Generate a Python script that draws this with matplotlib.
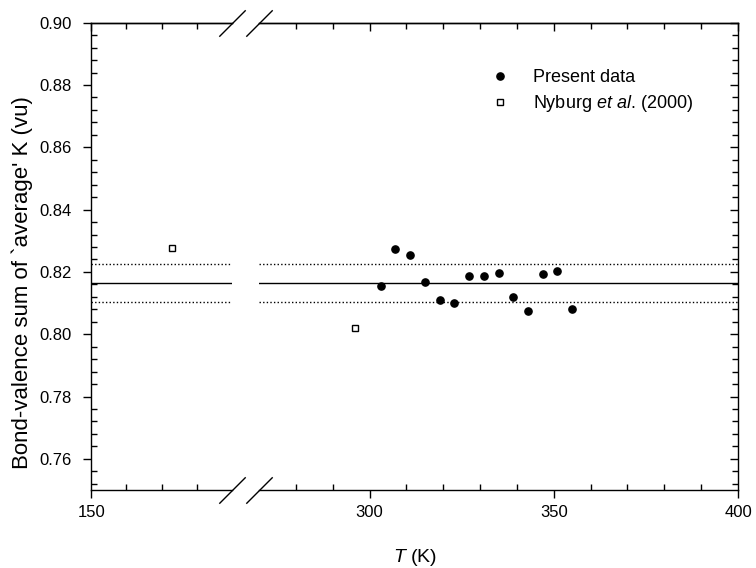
import numpy as np
import matplotlib
matplotlib.use('Agg')
import matplotlib.pyplot as plt
from matplotlib.ticker import FixedLocator, NullFormatter

plt.rcParams['font.family'] = ['Liberation Sans', 'DejaVu Sans']
plt.rcParams['mathtext.fontset'] = 'custom'
plt.rcParams['mathtext.rm'] = 'Liberation Sans'
plt.rcParams['mathtext.it'] = 'Liberation Sans:italic'

# present data
t_present = [303, 307, 311, 315, 319, 323, 327, 331, 335, 339, 343, 347, 351, 355]
bvs_present = [0.8155, 0.8274, 0.8253, 0.8169, 0.8109, 0.8101, 0.8187,
               0.8187, 0.8197, 0.8118, 0.8076, 0.8192, 0.8203, 0.8081]

# Nyburg et al. (2000)
t_nyburg = [173, 296]
bvs_nyburg = [0.8277, 0.8020]

bvs_mean = 0.8164
bvs_upper = 0.8225
bvs_lower = 0.8104

left_xlim = (150, 190)
right_xlim = (270, 400)
ylim = (0.75, 0.90)

W, H = 756, 568
fig = plt.figure(figsize=(W / 100, H / 100), dpi=100)

y0 = 1 - 490 / H
hgt = (490 - 22.7) / H
ax_l = fig.add_axes([91.3 / W, y0, (231.7 - 91.3) / W, hgt])
ax_r = fig.add_axes([259 / W, y0, (738 - 259) / W, hgt])


def style_axes(ax, side):
    for sp in ax.spines.values():
        sp.set_linewidth(1.0)
    ax.set_ylim(*ylim)
    ax.yaxis.set_major_locator(FixedLocator(np.arange(0.76, 0.901, 0.02)))
    ax.yaxis.set_minor_locator(FixedLocator(np.arange(0.752, 0.90, 0.004)))
    ax.tick_params(axis='both', which='major', length=6, width=1.0, labelsize=12)
    ax.tick_params(axis='both', which='minor', length=4, width=1.0)
    ax.tick_params(axis='x', which='major', direction='out', top=False, pad=5)
    ax.tick_params(axis='x', which='minor', direction='in', top=False)
    top = ax.secondary_xaxis('top')
    top.xaxis.set_major_locator(ax.xaxis.get_major_locator())
    top.xaxis.set_minor_locator(ax.xaxis.get_minor_locator())
    top.xaxis.set_major_formatter(NullFormatter())
    top.tick_params(axis='x', which='both', direction='in', width=1.0)
    top.tick_params(which='major', length=6)
    top.tick_params(which='minor', length=4)
    top.spines['top'].set_linewidth(1.0)
    if side == 'left':
        ax.spines['right'].set_visible(False)
        ax.tick_params(axis='y', which='major', direction='out', right=False, pad=8)
        ax.tick_params(axis='y', which='minor', direction='in', right=False)
    else:
        ax.spines['left'].set_visible(False)
        ax.tick_params(axis='y', which='both', left=False, labelleft=False,
                       right=True, direction='in')


ax_l.set_xlim(*left_xlim)
ax_l.xaxis.set_major_locator(FixedLocator([150]))
ax_l.xaxis.set_minor_locator(FixedLocator(np.arange(160, 190, 10)))
ax_r.set_xlim(*right_xlim)
ax_r.xaxis.set_major_locator(FixedLocator([300, 350, 400]))
ax_r.xaxis.set_minor_locator(FixedLocator([v for v in range(280, 400, 10) if v % 50]))
style_axes(ax_l, 'left')
style_axes(ax_r, 'right')

dots = (0, (1, 1.6))
for ax, xl in ((ax_l, left_xlim), (ax_r, right_xlim)):
    ax.plot(xl, [bvs_mean, bvs_mean], color='black', lw=1.0)
    ax.plot(xl, [bvs_upper, bvs_upper], color='black', lw=1.0, ls=dots)
    ax.plot(xl, [bvs_lower, bvs_lower], color='black', lw=1.0, ls=dots)
    ax.plot(t_present, bvs_present, 'o', color='black', ms=5.2, ls='none',
            label='Present data')
    ax.plot(t_nyburg, bvs_nyburg, 's', mfc='white', mec='black', mew=1.0, ms=4.6,
            ls='none', label=r'Nyburg $\mathit{et\ al.}\,$(2000)')

# axis break marks
slash = [(-1, -1), (1, 1)]
for ax, xpos in ((ax_l, 1), (ax_r, 0)):
    for ypos in (0, 1):
        ax.plot([xpos], [ypos], marker=slash, ms=19, mew=1.0, color='black',
                transform=ax.transAxes, clip_on=False)

ax_r.legend(loc='upper left', bbox_to_anchor=(0.441, 0.936), frameon=False,
            fontsize=13, handletextpad=1.1, labelspacing=0.4, handlelength=1.5,
            borderaxespad=0.5)

fig.text(415 / W, 1 - 558 / H, r'$T$ (K)', ha='center', va='center', fontsize=14)
fig.text(22 / W, 1 - 283 / H, "Bond-valence sum of `average' K (vu)",
         rotation=90, ha='center', va='center', fontsize=16)

fig.savefig('out.png', dpi=100)
